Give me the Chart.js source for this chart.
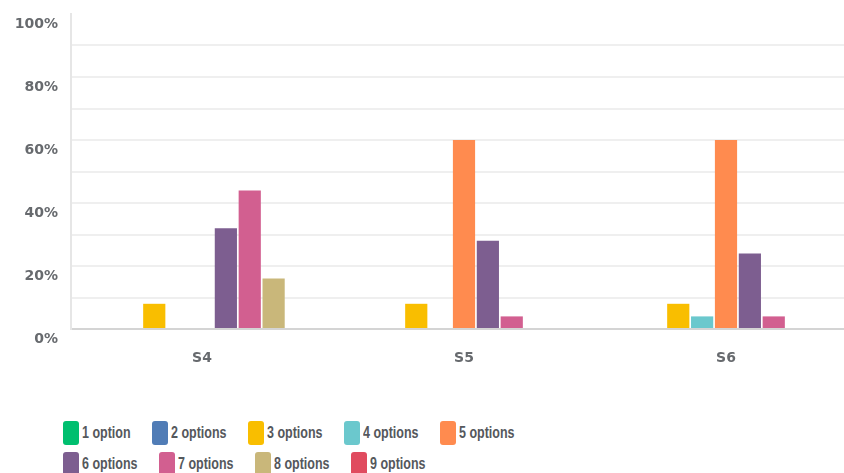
<!DOCTYPE html>
<html>
<head>
<meta charset="utf-8">
<script src="https://cdn.jsdelivr.net/npm/chart.js@4.4.0/dist/chart.umd.min.js"></script>
<style>
  body { margin: 0; background: #fff; }
  #wrap { position: relative; width: 844px; height: 473px; overflow: hidden; }
  #myChart { position: absolute; left: 0; top: 0; }
  #legend { position: absolute; left: 63px; top: 421px; width: 540px; display: flex; flex-wrap: wrap; row-gap: 7px; }
  .item { display: flex; align-items: center; margin-right: 22px; font-family: "Liberation Sans", sans-serif; font-weight: bold; font-size: 16px; color: #55585c; white-space: nowrap; }
  .box { width: 16px; height: 24px; border-radius: 3px; margin-right: 3px; flex: none; }
  .txt { display: inline-block; overflow: visible; }
  .txt span { display: inline-block; transform-origin: 0 50%; transform: scaleX(0.78); }
</style>
</head>
<body>
<div id="wrap">
  <canvas id="myChart" width="857" height="400"></canvas>
  <div id="legend"></div>
</div>
<script>
const categories = ['S4', 'S5', 'S6'];
const seriesNames = ['1 option', '2 options', '3 options', '4 options', '5 options', '6 options', '7 options', '8 options', '9 options'];
const seriesColors = ['#00bf6f', '#507cb6', '#f9be00', '#6bc8cd', '#ff8b4f', '#7d5e90', '#d25f90', '#c9b77a', '#e04b5f'];
// percentages per series, for S4, S5, S6
const opt1 = [0, 0, 0];
const opt2 = [0, 0, 0];
const opt3 = [8, 8, 8];
const opt4 = [0, 0, 4];
const opt5 = [0, 60, 60];
const opt6 = [32, 28, 24];
const opt7 = [44, 4, 4];
const opt8 = [16, 0, 0];
const opt9 = [0, 0, 0];
const yTicks = [0, 20, 40, 60, 80, 100];

const seriesValues = [opt1, opt2, opt3, opt4, opt5, opt6, opt7, opt8, opt9];
const squeeze = 0.78;

const chart = new Chart('myChart', {
    type: 'bar',
    data: {
        labels: categories,
        datasets: seriesNames.map((name, i) => ({
            label: name,
            data: seriesValues[i],
            backgroundColor: seriesColors[i],
            borderWidth: 0,
            barPercentage: 0.93,
            categoryPercentage: 0.82,
        })),
    },
    options: {
        responsive: false,
        animation: false,
        layout: { padding: { top: 14, left: 0, right: 0, bottom: 0 } },
        plugins: {
            legend: { display: false },
            tooltip: { enabled: false },
        },
        scales: {
            x: {
                grid: { display: false, drawTicks: false },
                border: { color: '#d4d4d4', width: 2 },
                ticks: {
                    padding: 21,
                    color: '#676a6e',
                    font: { family: 'DejaVu Sans', weight: 'bold', size: 14 },
                },
                afterFit: (scale) => { scale.height = 71; },
            },
            y: {
                min: 0,
                max: 100,
                grid: {
                    drawTicks: false,
                    color: (ctx) => (ctx.tick && (ctx.tick.value === 100 || ctx.tick.value === 0)) ? 'rgba(0,0,0,0)' : '#efefef',
                    lineWidth: 2,
                },
                border: { color: '#e6e6e6', width: 2 },
                ticks: {
                    stepSize: 10,
                    padding: 13,
                    labelOffset: 10,
                    color: '#676a6e',
                    font: { family: 'DejaVu Sans', weight: 'bold', size: 14 },
                    callback: (v) => yTicks.includes(v) ? v + '%' : '',
                },
                afterFit: (scale) => {
                    scale.width = 71;
                    scale.paddingTop = 0;
                    scale.paddingBottom = 0;
                },
            },
        },
    },
});

// html legend built from the chart's datasets, text squeezed like the original
const legendEl = document.getElementById('legend');
chart.data.datasets.forEach((ds) => {
    const item = document.createElement('div');
    item.className = 'item';
    const box = document.createElement('span');
    box.className = 'box';
    box.style.background = ds.backgroundColor;
    const txt = document.createElement('span');
    txt.className = 'txt';
    const inner = document.createElement('span');
    inner.textContent = ds.label;
    txt.appendChild(inner);
    item.appendChild(box);
    item.appendChild(txt);
    legendEl.appendChild(item);
    txt.style.width = Math.round(inner.offsetWidth * squeeze) + 'px';
});
</script>
</body>
</html>
